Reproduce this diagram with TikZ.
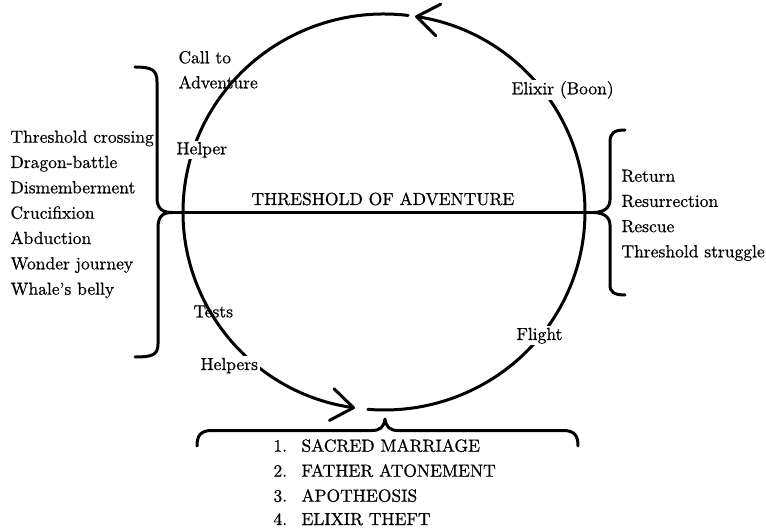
\documentclass[tikz,border=0pt]{standalone}
\usepackage{fontspec}
\setmainfont{lmroman10-regular.otf}[FakeBold=0.6]
\usetikzlibrary{arrows.meta}
\begin{document}
\begin{tikzpicture}[x=1pt,y=1pt,
  line width=3pt, line cap=round, line join=round,
  every node/.style={font=\fontsize{17.5}{20}\selectfont},
  lbl/.style={anchor=base west, inner sep=0pt},
  gaplbl/.style={anchor=base west, inner sep=1.5pt, fill=white},
  barb/.style={-{Straight Barb[length=22pt,width=32pt,line width=3pt,round]}}]
\useasboundingbox (0,0) rectangle (766,528);
% circle of the journey
\coordinate (c) at (384,316);
\draw[barb] ([shift={(-94.6:201 and 198)}]c) arc[start angle=-94.6, end angle=81.1, x radius=201, y radius=198];
\draw[barb] ([shift={(83.1:201 and 198)}]c) arc[start angle=83.1, end angle=261.7, x radius=201, y radius=198];
% braces
\coordinate (ltip) at (172,315.5);
\coordinate (rtip) at (593,315.5);
\coordinate (btip) at (385,109);
\draw (135,461) .. controls (152,461) and (157,458) .. (157,446) -- (157,330)
  .. controls (157,319) and (163,315.5) .. (ltip)
  .. controls (163,315.5) and (158,312) .. (158,300) -- (158,184)
  .. controls (158,173) and (152,171) .. (135,171);
\draw (625,398) .. controls (614,398) and (610,395) .. (610,386) -- (610,328)
  .. controls (610,319) and (602,315.5) .. (rtip)
  .. controls (602,315.5) and (610,312) .. (610,303) -- (610,243)
  .. controls (610,236) and (614,233) .. (625,233);
\draw (197,82) .. controls (197,93) and (201,97.5) .. (212,97.5) -- (372,97.5)
  .. controls (380,97.5) and (384,101) .. (btip)
  .. controls (386,101) and (390,97.5) .. (398,97.5) -- (563,97.5)
  .. controls (574,97.5) and (578,93) .. (578,82);
% threshold line
\draw (ltip) -- (rtip);
\node[lbl] (thr) at (250,323) {THRESHOLD OF ADVENTURE};
% labels on the circle
\node[lbl] (call1) at (177,464.7) {Call to};
\node[lbl] (call2) at (177,439.7) {Adventure};
\node[gaplbl] (helper) at (173.5,373.7) {Helper};
\node[gaplbl] (elixir) at (508.5,433.7) {Elixir (Boon)};
\node[lbl] (tests) at (192,210.7) {Tests};
\node[gaplbl] (helpers) at (197.5,158) {Helpers};
\node[gaplbl] (flight) at (513.5,188) {Flight};
% left list
\node[lbl] (l1) at (9,385.3) {Threshold crossing};
\node[lbl] (l2) at (9,360) {Dragon-battle};
\node[lbl] (l3) at (9,334.7) {Dismemberment};
\node[lbl] (l4) at (9,309.3) {Crucifixion};
\node[lbl] (l5) at (9,284) {Abduction};
\node[lbl] (l6) at (9,258.7) {Wonder journey};
\node[lbl] (l7) at (9,233.3) {Whale's belly};
% right list
\node[lbl] (r1) at (620,346.3) {Return};
\node[lbl] (r2) at (620,321.1) {Resurrection};
\node[lbl] (r3) at (620,295.9) {Rescue};
\node[lbl] (r4) at (620,270.7) {Threshold struggle};
% bottom list
\node[lbl] (n1) at (272,76.3) {1.};
\node[lbl] (b1) at (300,76.3) {SACRED MARRIAGE};
\node[lbl] (n2) at (272,51.3) {2.};
\node[lbl] (b2) at (300,51.3) {FATHER ATONEMENT};
\node[lbl] (n3) at (272,26.3) {3.};
\node[lbl] (b3) at (300,26.3) {APOTHEOSIS};
\node[lbl] (n4) at (272,3) {4.};
\node[lbl] (b4) at (300,3) {ELIXIR THEFT};
\end{tikzpicture}
\end{document}
